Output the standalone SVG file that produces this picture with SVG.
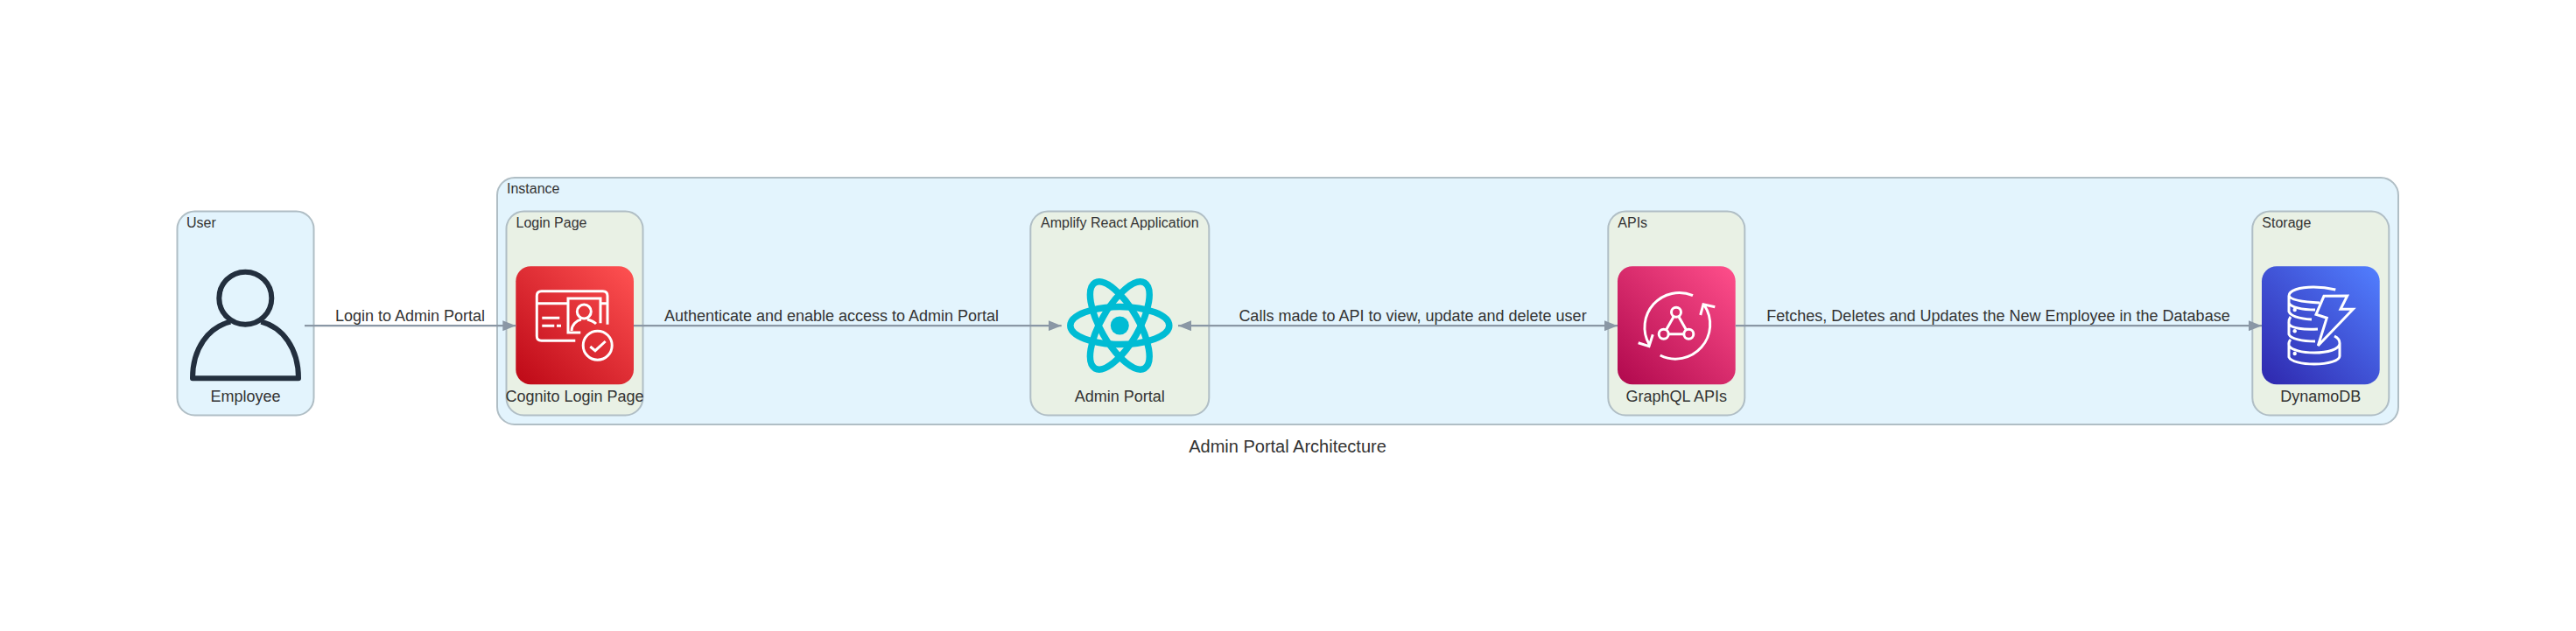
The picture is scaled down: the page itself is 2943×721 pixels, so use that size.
<svg xmlns="http://www.w3.org/2000/svg" width="2943" height="721" viewBox="0 0 2943 721">
<style>
text{font-family:"Liberation Sans",Arial,Helvetica,sans-serif;fill:#333}
.t{font-size:16px}.n{font-size:18px;text-anchor:middle}.l{font-size:18px;text-anchor:middle}
.user{fill:#e3f4fd;stroke:#b0bec5;stroke-width:2}
.group{fill:#e3f4fd;stroke:#b0bec5;stroke-width:2}
.sub{fill:#e9f1e5;stroke:#b0bec5;stroke-width:2}
.c{stroke:#8a97a5;stroke-width:2.2;fill:none}
.w{fill:none;stroke:#fff;stroke-width:3}
.d{fill:#fff}
</style>
<defs>
<linearGradient id="gr" x1="0" y1="1" x2="1" y2="0"><stop offset="0" stop-color="#bd0816"/><stop offset="1" stop-color="#ff5252"/></linearGradient>
<linearGradient id="gp" x1="0" y1="1" x2="1" y2="0"><stop offset="0" stop-color="#b0084d"/><stop offset="1" stop-color="#ff4f8b"/></linearGradient>
<linearGradient id="gb" x1="0" y1="1" x2="1" y2="0"><stop offset="0" stop-color="#2e27ad"/><stop offset="1" stop-color="#527fff"/></linearGradient>
<marker id="ae" markerUnits="userSpaceOnUse" markerWidth="15" markerHeight="12" refX="15" refY="6" orient="auto"><path d="M0 0L15 6L0 12z" fill="#8a97a5"/></marker>
<marker id="as" markerUnits="userSpaceOnUse" markerWidth="15" markerHeight="12" refX="0" refY="6" orient="auto"><path d="M15 0L0 6L15 12z" fill="#8a97a5"/></marker>
</defs>
<g id="instance"><rect class="group" x="568" y="203" width="2172" height="282" rx="20"/><text class="t" x="579" y="221">Instance</text></g>
<g id="user"><rect class="user" x="202.500" y="241.500" width="156" height="233" rx="20"/><text class="t" x="213" y="260">User</text>
<circle cx="280.300" cy="340.700" r="30" fill="none" stroke="#232f3e" stroke-width="6"/>
<path d="M263.300 367.700C238 374 220 398 220 432.300H341C341 398 323 374 298.300 367.700" fill="none" stroke="#232f3e" stroke-width="6" stroke-linejoin="round"/>
<text class="n" x="280.500" y="459">Employee</text></g>
<g id="login"><rect class="sub" x="578.500" y="241.500" width="156" height="233" rx="20"/><text class="t" x="589.500" y="260">Login Page</text>
<rect x="589.300" y="304.300" width="134.700" height="135" rx="17" fill="url(#gr)"/>
<path class="w" d="M694 370.700V338Q694 332.700 688.700 332.700H618.700Q613.300 332.700 613.300 338V384Q613.300 389.300 618.700 389.300H657.300M613.300 346.700H649M686 346.700H694M663.300 380H649V341H686V369.300M653 378C653 371 659 366 664 365M671 365C675 366 678 367 681 370M619.300 363.300H639.300M619.300 372.300H633.300M636 372.300H641"/>
<circle class="w" cx="667.300" cy="356" r="8"/><circle class="w" cx="682.700" cy="394.700" r="16.500"/>
<path class="w" d="M674.300 396L680 400.700L691.700 390"/>
<text class="n" x="656.500" y="459">Cognito Login Page</text></g>
<g id="amplify"><rect class="sub" x="1177.300" y="241.500" width="204" height="233" rx="20"/><text class="t" x="1279.300" y="260" text-anchor="middle">Amplify React Application</text>
<g fill="none" stroke="#00bcd4" stroke-width="7.500"><ellipse cx="1279.300" cy="372" rx="56.500" ry="21.500"/><ellipse cx="1279.300" cy="372" rx="56.500" ry="21.500" transform="rotate(60 1279.300 372)"/><ellipse cx="1279.300" cy="372" rx="56.500" ry="21.500" transform="rotate(-60 1279.300 372)"/></g>
<circle cx="1279.300" cy="372" r="10.500" fill="#00bcd4"/>
<text class="n" x="1279.300" y="459">Admin Portal</text></g>
<g id="apis"><rect class="sub" x="1837.300" y="241.500" width="156" height="233" rx="20"/><text class="t" x="1848.300" y="260">APIs</text>
<rect x="1848" y="304.300" width="134.700" height="135" rx="17" fill="url(#gp)"/>
<path class="w" d="M1934 337.700A39.500 39.500 0 0 0 1884 393.300M1871.700 391.700L1884 395.700L1888.300 382.300M1896.700 406A39.500 39.500 0 0 0 1947.300 349M1959.300 350.700L1946 347.700L1942.700 360M1912.300 361.500L1903.500 376.900M1917.700 361.500L1926.500 376.900M1906.500 381.700H1923.500"/>
<circle class="w" cx="1915" cy="356.700" r="5.500"/><circle class="w" cx="1900.700" cy="381.700" r="5.500"/><circle class="w" cx="1929.300" cy="381.700" r="5.500"/>
<text class="n" x="1915.300" y="459">GraphQL APIs</text></g>
<g id="storage"><rect class="sub" x="2573.300" y="241.500" width="156" height="233" rx="20"/><text class="t" x="2584.300" y="260">Storage</text>
<rect x="2584" y="304.300" width="134.700" height="135" rx="17" fill="url(#gb)"/>
<path class="w" d="M2668.300 331C2660 329 2652 328 2643 328C2627 328 2615 332 2615 338V346C2617 351 2630 354 2645 354M2615 338C2617 343 2630 345 2650 346M2615 346V356C2617 361 2625 364 2641 365M2617 362C2614 366 2615 368 2615 370C2617 375 2632 377 2648 376M2615 370V382C2617 387 2630 390 2645 390M2617 388C2614 391 2615 393 2615 395V408C2617 413 2630 416 2644 416C2660 416 2673 412 2673 407V392C2673 389 2671 386 2667 384M2615 395C2618 400 2630 403 2644 403C2660 403 2672 399 2673 393"/>
<path class="w" stroke-linejoin="miter" d="M2655 338.300L2681.700 338L2674 353.300H2688.300L2648.300 395L2658.300 363.300L2646 359.300Z"/>
<circle class="d" cx="2621.700" cy="354" r="2.200"/><circle class="d" cx="2621.700" cy="378.300" r="2.200"/><circle class="d" cx="2621.700" cy="404" r="2.200"/>
<text class="n" x="2651.300" y="459">DynamoDB</text></g>
<g id="connectors">
<path class="c" d="M348 372.200H589.300" marker-end="url(#ae)"/>
<path class="c" d="M724 372.200H1212.700" marker-end="url(#ae)"/>
<path class="c" d="M1346 372.200H1848" marker-start="url(#as)" marker-end="url(#ae)"/>
<path class="c" d="M1982.700 372.200H2584" marker-end="url(#ae)"/>
<text class="l" x="468.500" y="367">Login to Admin Portal</text>
<text class="l" x="950" y="367">Authenticate and enable access to Admin Portal</text>
<text class="l" x="1614" y="367">Calls made to API to view, update and delete user</text>
<text class="l" x="2283" y="367">Fetches, Deletes and Updates the New Employee in the Database</text>
</g>
<text id="title" x="1471" y="517" font-size="20" text-anchor="middle">Admin Portal Architecture</text>
</svg>
